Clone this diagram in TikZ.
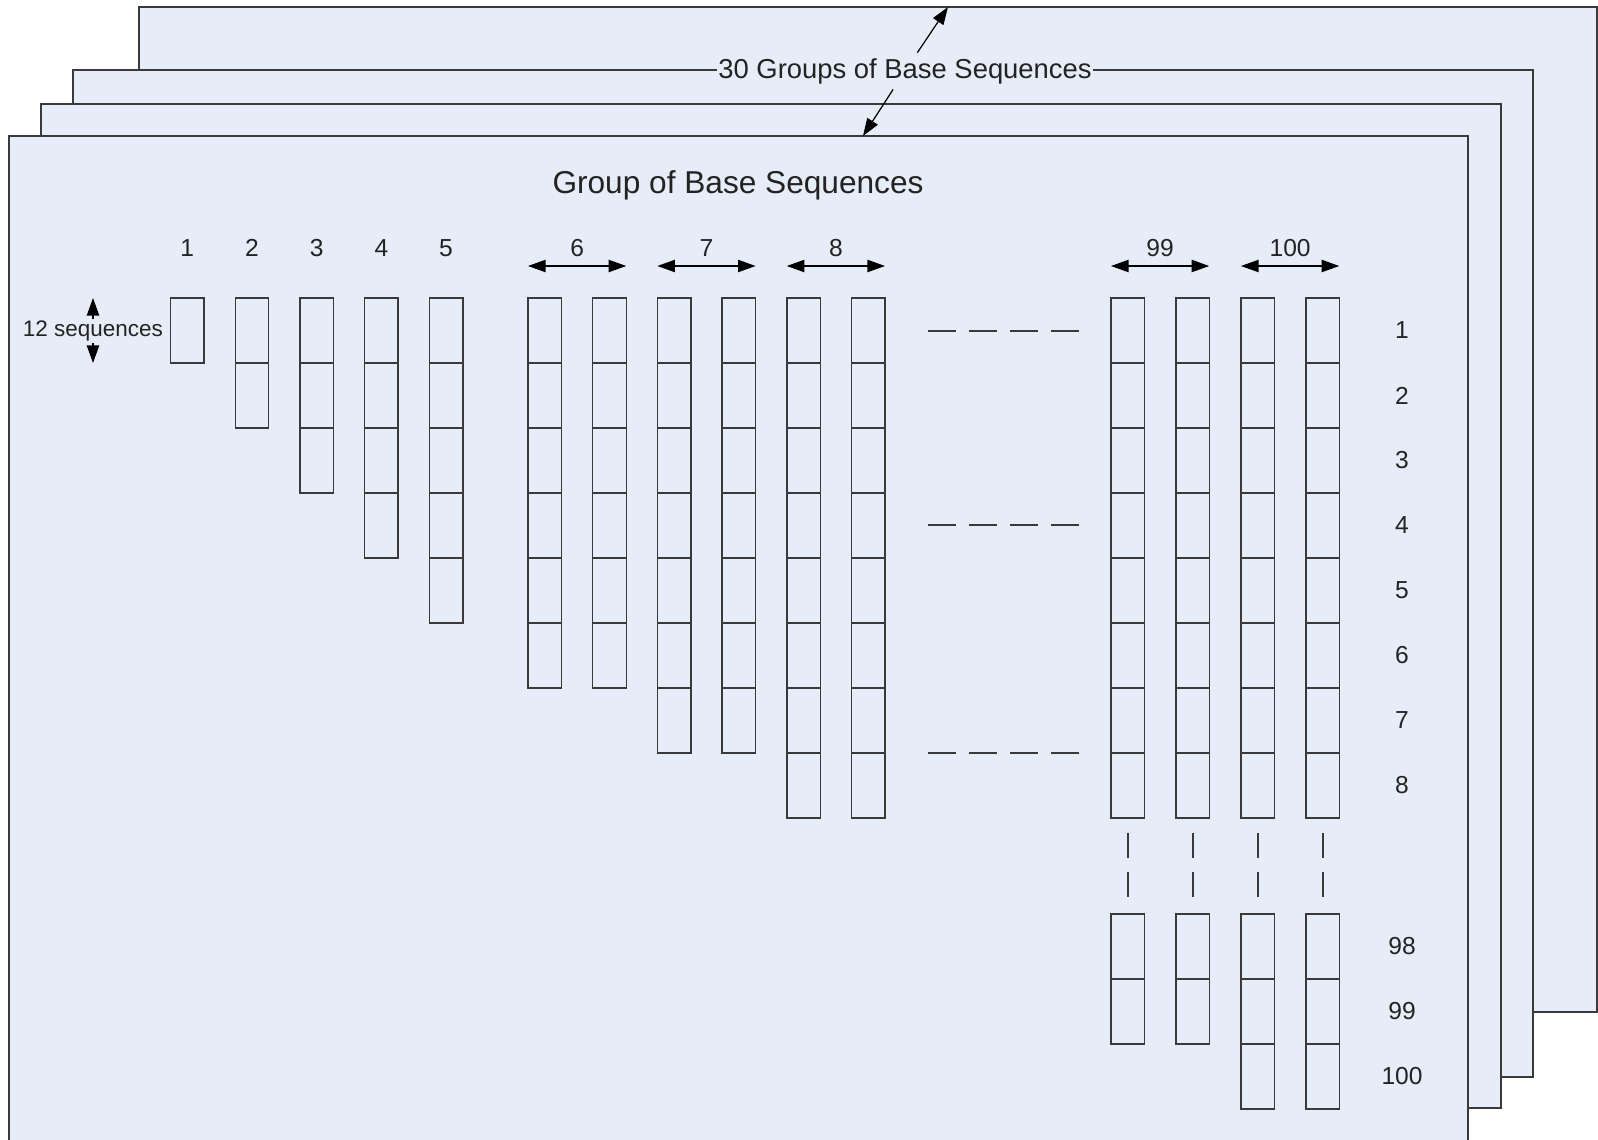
\documentclass[tikz,border=0pt]{standalone}
\usepackage{fontspec}
\setmainfont{Liberation Sans}
\usetikzlibrary{arrows.meta}

\definecolor{sheetfill}{RGB}{230,237,248}
\definecolor{linegray}{RGB}{58,58,58}
\definecolor{textgray}{RGB}{35,35,35}

\begin{document}
\begin{tikzpicture}[x=0.02cm, y=-0.02cm,
  sheet/.style={draw=linegray, line width=1.1pt, fill=sheetfill},
  cell/.style={draw=linegray, line width=0.8pt, anchor=north west,
    minimum width=0.67cm, minimum height=1.3cm, inner sep=0pt, outer sep=0pt},
  num/.style={text=textgray, font=\fontsize{14}{16}\selectfont, inner sep=1pt},
  tip/.style={-{Triangle[length=10pt,width=7pt]}, line width=0.7pt},
  dblarrow/.style={{Triangle[length=10pt,width=7pt]}-{Triangle[length=10pt,width=7pt]}, line width=0.7pt},
  hgap/.style={draw=linegray, line width=0.9pt, dash pattern=on 0.56cm off 0.26cm},
  vgap/.style={draw=linegray, line width=0.9pt, dash pattern=on 0.5cm off 0.28cm}]

\useasboundingbox (0,0) rectangle (1598,1139);

% Stapel der Gruppen
\begin{scope}
\clip (0,0) rectangle (1598,1139);
\foreach \l/\t/\r/\b in {
139/7/1597/1012,
73/70/1533/1077,
41/104/1501/1108,
9/136/1468/1170
}
{
\draw[sheet] (\l,\t) rectangle (\r,\b);
}
\end{scope}

% 30 Gruppen
\node[num, font=\fontsize{15.6}{18}\selectfont, fill=sheetfill,
  inner xsep=1pt, inner ysep=3pt] (groups) at (905,71)
{30 Groups of Base Sequences};
\coordinate (top4) at (948,7);
\coordinate (top1) at (863,136);
\draw[tip] (groups) -- (top4);
\draw[tip] (groups) -- (top1);

\node[text=textgray, font=\fontsize{18}{20}\selectfont, anchor=base] (title) at (738,193)
{Group of Base Sequences};

% 12 sequences
\coordinate (seqtop) at (93,298);
\coordinate (seqbot) at (93,363);
\draw[dblarrow] (seqtop) -- (seqbot);
\node[text=textgray, font=\fontsize{12.8}{14}\selectfont, fill=sheetfill,
  inner sep=1pt] (seqs) at (93,331)
{12 sequences};

% Spalten
\foreach \x/\n/\k in {
170.5/1/1, 235.2/2/2, 299.9/3/3, 364.6/4/4, 429.3/5/5,
528/6/6, 592.7/6/7, 657.4/7/8, 722.1/7/9, 786.8/8/10, 851.5/8/11,
1111/8/12, 1176/8/13, 1241/8/14, 1306/8/15
}
{
\foreach \r in {1,...,\n}
{
\node[cell] (c\k-\r) at (\x,{298+65*(\r-1)}) {};
}
}

% untere Zellen
\foreach \x/\n/\k in {1111/2/12, 1176/2/13, 1241/3/14, 1306/3/15}
{
\foreach \r in {1,...,\n}
{
\node[cell] (d\k-\r) at (\x,{914+65*(\r-1)}) {};
}
\coordinate (vt\k) at ({\x+16.75},833);
\coordinate (vb\k) at ({\x+16.75},899);
\draw[vgap] (vt\k) -- (vb\k);
}

% Spaltennummern
\foreach \x/\t in {170.5/1, 235.2/2, 299.9/3, 364.6/4, 429.3/5}
{
\node[num] (h\t) at ({\x+16.75},248) {\t};
}

\foreach \x/\t in {528/6, 657.4/7, 786.8/8, 1111/99, 1241/100}
{
\coordinate (al\t) at (\x,266);
\coordinate (ar\t) at ({\x+98.2},266);
\draw[dblarrow] (al\t) -- (ar\t);
\node[num] (h\t) at ({\x+49.1},248) {\t};
}

% Zeilennummern
\foreach \r in {1,...,8}
{
\node[num] (r\r) at (1402,{298+65*\r-32.5}) {\r};
}
\foreach \r/\t in {1/98, 2/99, 3/100}
{
\node[num] (r\t) at (1402,{914+65*\r-32.5}) {\t};
}

% Auslassung
\foreach \y/\k in {331/1, 525/2, 753/3}
{
\coordinate (gl\k) at (928,\y);
\coordinate (gr\k) at (1080,\y);
\draw[hgap] (gl\k) -- (gr\k);
}

\end{tikzpicture}
\end{document}
